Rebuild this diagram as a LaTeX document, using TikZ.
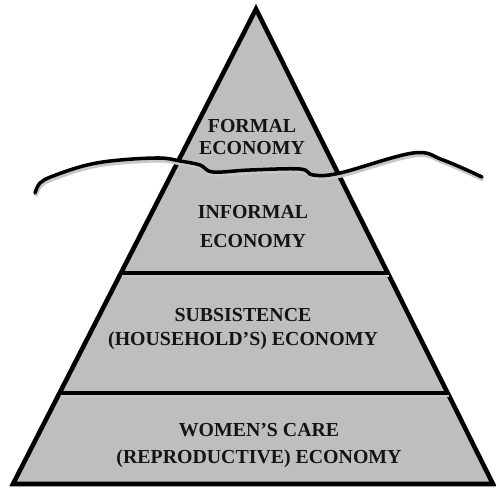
\documentclass[tikz,border=0pt]{standalone}
\usepackage{fontspec}
\setmainfont{Liberation Serif}
\usetikzlibrary{calc}
\definecolor{layergray}{RGB}{190,190,190}
\definecolor{inkgray}{RGB}{20,20,20}
\tikzset{
  tier/.style={font=\bfseries\fontsize{11.3}{12.6}\selectfont, align=center, text=inkgray},
  divider/.style={line width=2pt},
  ghost/.style={line width=1.2pt, draw=black!22},
}
\begin{document}
\begin{tikzpicture}[x=0.02cm,y=-0.02cm]
	\useasboundingbox (0,0) rectangle (496,487);
	%
	%  PYRAMID
	%
	\coordinate (T) at (256,9);
	\coordinate (BL) at (13,484);
	\coordinate (BR) at (493,484);
	\filldraw[fill=layergray, line width=2.6pt, line join=miter] (T) -- (BL) -- (BR) -- cycle;
	\coordinate (L1) at ($(BL)!0.444!(T)$);
	\coordinate (R1) at ($(BR)!0.444!(T)$);
	\coordinate (L2) at ($(BL)!0.1916!(T)$);
	\coordinate (R2) at ($(BR)!0.1916!(T)$);
	\draw[ghost] ($(L1)+(1,3)$) -- ($(R1)+(1,3)$);
	\draw[ghost] ($(L2)+(1,3)$) -- ($(R2)+(1,3)$);
	\draw[divider] (L1) -- (R1);
	\draw[divider] (L2) -- (R2);
	%
	%  WATER LINE
	%
	\draw[ghost, line width=1.8pt, shift={(1,3)}] plot[smooth, tension=0.6] coordinates {(35,193) (40,183) (53,176) (87,165) (120,160) (160,158) (180,161) (200,165) (213,172) (250,170) (300,169) (313,175) (340,173) (413,153) (443,160) (482,177)};
	\draw[divider, line cap=round] plot[smooth, tension=0.6] coordinates {(35,193) (40,183) (53,176) (87,165) (120,160) (160,158) (180,161) (200,165) (213,172) (250,170) (300,169) (313,175) (340,173) (413,153) (443,160) (482,177)};
	%
	%  LABELS
	%
	\node[tier] (formal) at (252,137) {FORMAL\\ECONOMY};
	\node[tier] (informal) at (253,226.5) {INFORMAL\\[3.8pt]ECONOMY};
	\node[tier] (subsistence) at (243,329) {SUBSISTENCE\\[1pt](HOUSEHOLD'S) ECONOMY};
	\node[tier] (care) at (259,445.5) {WOMEN'S CARE\\[2.7pt](REPRODUCTIVE) ECONOMY};
\end{tikzpicture}
\end{document}
